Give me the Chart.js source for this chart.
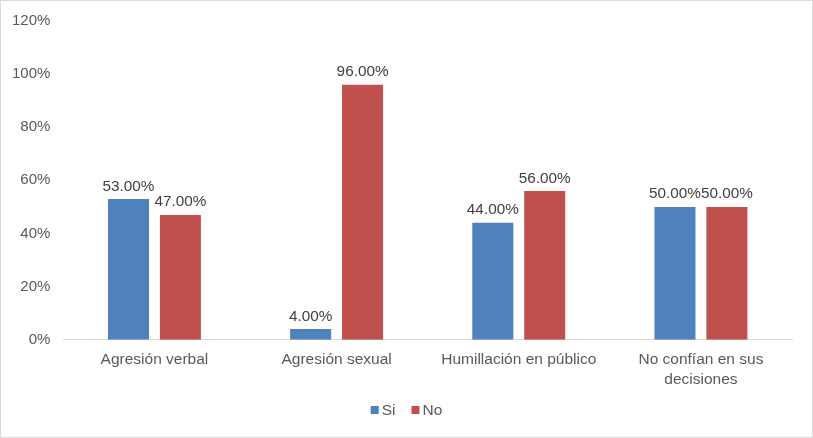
<!DOCTYPE html>
<html>
<head>
<meta charset="utf-8">
<script src="https://cdn.jsdelivr.net/npm/chart.js@4"></script>
<style>
  html, body { margin: 0; padding: 0; background: #fff; }
  #wrap { position: relative; width: 811px; height: 436px; border: 1px solid #d9d9d9; }
</style>
</head>
<body>
<div id="wrap"><canvas id="chart"></canvas></div>
<script>
// --- DATA ---
const categories = ['Agresión verbal', 'Agresión sexual', 'Humillación en público', ['No confían en sus', 'decisiones']];
const siValues = [53, 4, 44, 50];
const noValues = [47, 96, 56, 50];
const yTicks = [0, 20, 40, 60, 80, 100, 120];

const FONT = '"Liberation Sans", Arial, sans-serif';

// draws "53.00%" style labels above each bar
const valueLabels = {
    id: 'valueLabels',
    afterDatasetsDraw(chart) {
        const ctx = chart.ctx;
        ctx.save();
        ctx.font = '15.3px ' + FONT;
        ctx.fillStyle = '#404040';
        ctx.textAlign = 'center';
        ctx.textBaseline = 'bottom';
        chart.data.datasets.forEach((ds, i) => {
            chart.getDatasetMeta(i).data.forEach((bar, j) => {
                ctx.fillText(ds.data[j].toFixed(2) + '%', bar.x, bar.y - 5);
            });
        });
        ctx.restore();
    }
};

// small legend at the bottom, square marker tight against the text
const bottomLegend = {
    id: 'bottomLegend',
    afterDraw(chart) {
        const ctx = chart.ctx;
        const box = 8, gap = 3, itemGap = 16;
        ctx.save();
        ctx.font = '15.5px ' + FONT;
        ctx.textBaseline = 'middle';
        const items = chart.data.datasets.map(ds => ({
            label: ds.label, color: ds.backgroundColor,
            w: box + gap + ctx.measureText(ds.label).width
        }));
        const total = items.reduce((s, it) => s + it.w, 0) + itemGap * (items.length - 1);
        let x = (chart.width - total) / 2;
        const y = 409;
        items.forEach(it => {
            ctx.fillStyle = it.color;
            ctx.fillRect(x, y - box / 2, box, box);
            ctx.fillStyle = '#595959';
            ctx.textAlign = 'left';
            ctx.fillText(it.label, x + box + gap, y + 1);
            x += it.w + itemGap;
        });
        ctx.restore();
    }
};

new Chart(document.getElementById('chart'), {
    type: 'bar',
    data: {
        labels: categories,
        datasets: [
            { label: 'Si', data: siValues, backgroundColor: '#4f81bd' },
            { label: 'No', data: noValues, backgroundColor: '#c0504d' }
        ]
    },
    options: {
        responsive: true,
        maintainAspectRatio: false,
        animation: false,
        categoryPercentage: 0.57,
        barPercentage: 0.79,
        layout: { padding: { left: 6, right: 20, top: 20, bottom: 45 } },
        plugins: {
            legend: { display: false },
            tooltip: { enabled: false }
        },
        scales: {
            x: {
                grid: { display: false },
                border: { color: '#d9d9d9' },
                ticks: {
                    color: '#595959',
                    font: { size: 15.5, family: FONT, lineHeight: 1.3 },
                    maxRotation: 0,
                    padding: 2
                }
            },
            y: {
                min: 0,
                max: 120,
                afterBuildTicks: axis => { axis.ticks = yTicks.map(v => ({ value: v })); },
                grid: { display: false },
                border: { display: false },
                ticks: {
                    color: '#595959',
                    font: { size: 15, family: FONT },
                    padding: 5,
                    callback: v => v + '%'
                }
            }
        }
    },
    plugins: [valueLabels, bottomLegend]
});
</script>
</body>
</html>
